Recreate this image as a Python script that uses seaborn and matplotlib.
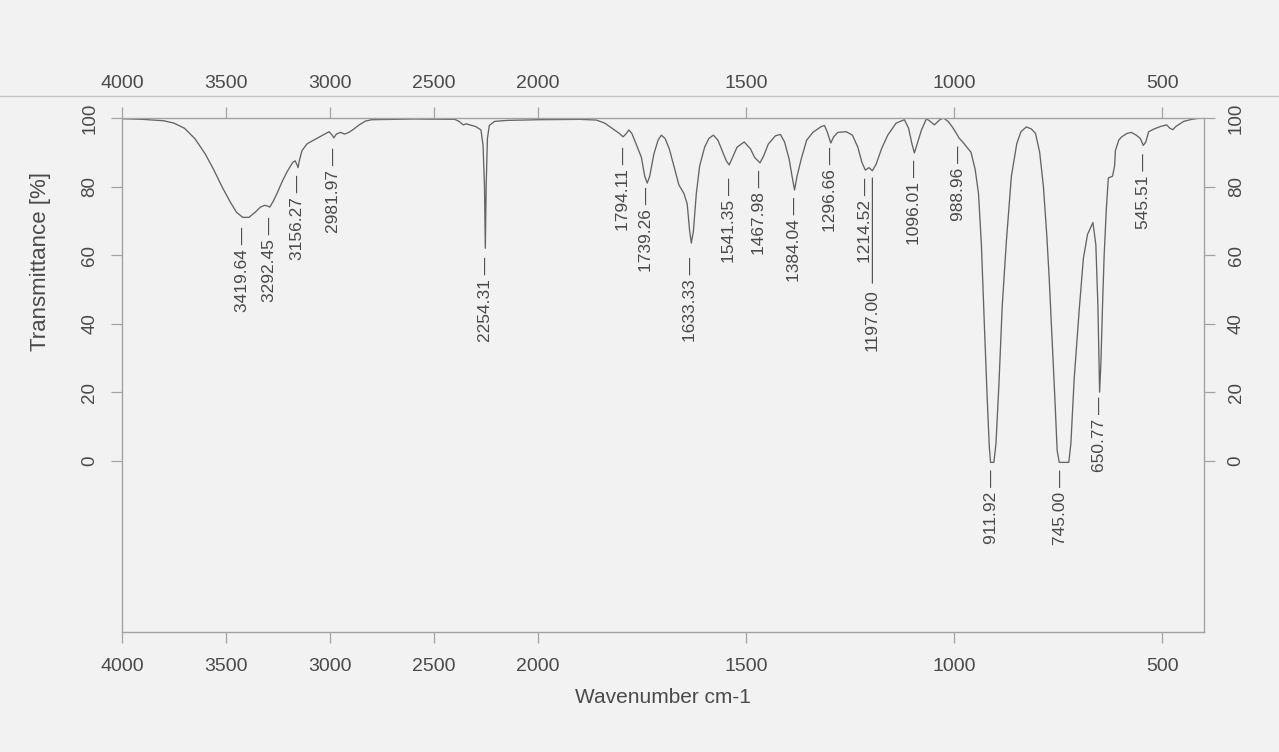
import numpy as np
import pandas as pd
import matplotlib
matplotlib.use("Agg")
import matplotlib.pyplot as plt
from matplotlib.lines import Line2D
import seaborn as sns

# spectrum (wavenumber cm-1, transmittance %)
wavenumber = [
    4000, 3900, 3800, 3750, 3700, 3650, 3600, 3560, 3520, 3480, 3450, 3420, 3390, 3360,
    3335, 3315, 3300, 3290, 3275, 3255, 3230, 3205, 3180, 3168, 3160, 3154, 3148, 3135,
    3110, 3080, 3050, 3020, 3005, 2990, 2982, 2970, 2950, 2930, 2910, 2890, 2860, 2830,
    2800, 2600, 2400, 2380, 2360, 2345, 2330, 2300, 2275, 2265, 2258, 2254, 2250, 2244,
    2235, 2210, 2150, 2000, 1900, 1860, 1840, 1820, 1805, 1796, 1788, 1782, 1775, 1765,
    1752, 1744, 1738, 1732, 1722, 1712, 1704, 1695, 1685, 1675, 1662, 1650, 1642, 1636,
    1632, 1627, 1620, 1612, 1600, 1590, 1579, 1568, 1558, 1548, 1541, 1533, 1522, 1505,
    1490, 1480, 1467, 1458, 1447, 1430, 1418, 1408, 1397, 1390, 1384, 1378, 1368, 1355,
    1340, 1320, 1312, 1305, 1297, 1290, 1280, 1260, 1245, 1232, 1222, 1214, 1205, 1197,
    1188, 1175, 1160, 1140, 1120, 1110, 1102, 1096, 1088, 1079, 1067, 1058, 1048, 1035,
    1026, 1015, 1005, 995, 989, 980, 970, 960, 950, 942, 935, 928, 921, 916, 913, 905,
    900, 893, 885, 875, 863, 850, 840, 827, 815, 805, 795, 786, 778, 772, 765, 758, 753,
    748, 725, 720, 712, 700, 690, 680, 667, 660, 655, 651, 648, 644, 640, 635, 630, 620,
    615, 613, 605, 598, 585, 575, 563, 553, 546, 540, 533, 520, 505, 490, 482, 475, 468,
    449, 430, 408, 400,
]
transmittance = [
    99.8, 99.6, 99.2, 98.5, 97.0, 94.0, 89.5, 85.0, 80.0, 75.5, 72.5, 71.0, 71.0, 72.5,
    74.0, 74.5, 74.3, 74.0, 75.5, 78.0, 81.5, 84.5, 87.0, 87.5, 86.5, 85.5, 87.5, 90.5,
    92.5, 93.5, 94.5, 95.5, 96.0, 95.0, 94.2, 95.3, 95.8, 95.3, 95.8, 96.6, 98.0, 99.1,
    99.5, 99.7, 99.6, 99.0, 98.0, 98.3, 98.0, 97.5, 96.5, 92.0, 80.0, 62.0, 80.0, 94.0,
    97.8, 99.0, 99.3, 99.5, 99.6, 99.4, 98.5, 96.8, 95.5, 94.5, 95.5, 96.5, 95.5, 92.5,
    88.5, 83.0, 81.0, 83.0, 89.5, 93.5, 95.0, 94.0, 91.0, 86.5, 80.5, 78.0, 75.0, 67.0,
    63.5, 67.0, 78.0, 86.0, 91.5, 94.0, 95.0, 93.5, 90.5, 87.5, 86.3, 88.5, 91.5, 93.0,
    91.0, 88.5, 86.9, 89.0, 92.4, 94.8, 95.2, 93.0, 88.0, 83.0, 79.0, 83.0, 88.0, 93.5,
    95.8, 97.5, 97.8, 95.8, 92.7, 94.5, 95.8, 96.0, 95.0, 91.5, 87.0, 84.8, 85.5, 84.6,
    86.5, 91.0, 95.0, 98.5, 99.5, 97.0, 92.5, 89.8, 93.0, 96.5, 99.8, 99.0, 98.0, 99.5,
    100.0, 99.0, 97.4, 95.5, 94.2, 93.0, 91.5, 90.0, 85.0, 78.0, 63.0, 40.0, 18.0, 4.0, -0.5, -0.5,
    5.0, 22.0, 45.0, 64.0, 83.0, 92.5, 96.0, 97.4, 96.8, 95.5, 90.0, 80.0, 66.0, 53.0, 35.0, 17.0, 3.0,
    -0.5, -0.5, 5.0, 24.0, 44.0, 59.0, 66.0, 69.5, 63.0, 45.0, 20.0, 28.0, 45.0, 60.0, 73.0, 82.5, 83.0,
    86.0, 90.5, 93.5, 94.5, 95.5, 95.8, 95.0, 94.0, 92.0, 93.0, 96.0, 96.8, 97.5, 98.0, 97.0, 96.6, 97.5,
    99.0, 99.6, 100.0, 100.0,
]

# peak picks and where the label starts (transmittance just under each band)
peak_labels = ["3419.64", "3292.45", "3156.27", "2981.97", "2254.31", "1794.11", "1739.26",
               "1633.33", "1541.35", "1467.98", "1384.04", "1296.66", "1214.52", "1096.01",
               "988.96", "911.92", "745.00", "650.77", "545.51"]
peak_label_y = [68.2, 71.0, 83.4, 91.2, 59.5, 91.5, 80.0, 59.5, 82.5, 84.8, 77.0, 91.5,
                82.5, 87.8, 92.0, -2.6, -2.6, 18.7, 89.8]
# the 1197 pick sits lower with a leader line up past 1214.52
extra_label = "1197.00"
extra_label_y = 50.0
extra_leader_top = 82.5

x_ticks = [4000, 3500, 3000, 2500, 2000, 1500, 1000, 500]
y_ticks = [0, 20, 40, 60, 80, 100]

bg = "#f2f2f2"
ink = "#4a4a4a"
spine_c = "#a3a3a3"

sns.set_style("white")
plt.rcParams["font.family"] = ["Liberation Sans", "DejaVu Sans"]

fig = plt.figure(figsize=(12.79, 7.52), dpi=100, facecolor=bg)
ax = fig.add_axes([0.0954, 0.1596, 0.846, 0.6835])
ax.set_facecolor(bg)

df = pd.DataFrame({"wn": wavenumber, "T": transmittance})
sns.lineplot(data=df, x="wn", y="T", ax=ax, color="#646464", lw=0.95,
             sort=False, estimator=None)


# spectrometer axis: scale doubles below 2000 cm-1
def fwd(x):
    x = np.asarray(x, dtype=float)
    return np.where(x >= 2000, x, 2 * x - 2000)


def inv(u):
    u = np.asarray(u, dtype=float)
    return np.where(u >= 2000, u, (u + 2000) / 2)


ax.set_xscale("function", functions=(fwd, inv))
ax.set_xlim(4000, 400)
ax.set_ylim(-50, 100)
ax.set_xticks(x_ticks)
ax.set_xticklabels([str(t) for t in x_ticks])
ax.set_yticks(y_ticks)
ax.set_yticklabels([str(t) for t in y_ticks])

ax.tick_params(axis="x", top=True, labeltop=True, bottom=True, labelbottom=True,
               direction="out", length=8, width=0.9, color=spine_c, pad=11,
               labelsize=14, labelcolor=ink)
ax.tick_params(axis="y", left=True, right=True, labelleft=True, labelright=True,
               direction="out", length=8, width=0.9, color=spine_c, pad=9,
               labelsize=13.5, labelcolor=ink, labelrotation=90)
for lab in ax.get_yticklabels():
    lab.set_va("center")

for s in ax.spines.values():
    s.set_color(spine_c)
    s.set_linewidth(1.0)

ax.set_xlabel("Wavenumber cm-1", fontsize=15, color=ink, labelpad=9)
ax.set_ylabel("Transmittance [%]", fontsize=16, color=ink)
ax.yaxis.set_label_coords(-0.066, 0.72)

peak_wn = [float(p) for p in peak_labels]
for wn, lab, ly in zip(peak_wn, peak_labels, peak_label_y):
    ax.text(wn, ly, lab + " \u2014", rotation=90, ha="center", va="top",
            fontsize=12.5, color=ink)

ax.annotate(extra_label, xy=(float(extra_label), extra_leader_top),
            xytext=(float(extra_label), extra_label_y), rotation=90,
            ha="center", va="top", fontsize=12.5, color=ink,
            arrowprops=dict(arrowstyle="-", color=ink, lw=0.8, shrinkA=2, shrinkB=0))

# faint page rule from the scan
fig.add_artist(Line2D([0.0, 1.0], [0.872, 0.872], transform=fig.transFigure,
                      color="#c4c4c4", lw=1.0))

fig.savefig("out.png", dpi=100, facecolor=bg)
